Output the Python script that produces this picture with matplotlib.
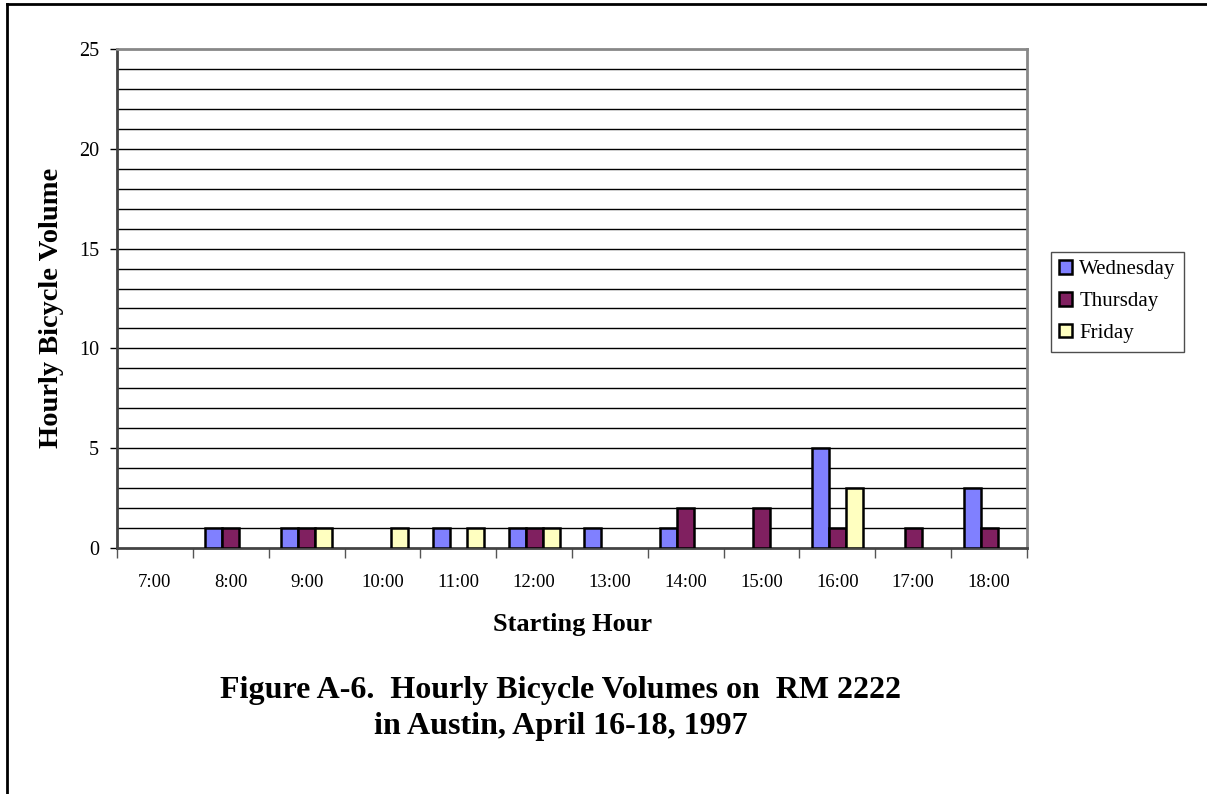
import matplotlib.pyplot as plt
import numpy as np
from matplotlib.lines import Line2D

# Data
hours = ["7:00", "8:00", "9:00", "10:00", "11:00", "12:00",
         "13:00", "14:00", "15:00", "16:00", "17:00", "18:00"]
wednesday = [0, 1, 1, 0, 1, 1, 1, 1, 0, 5, 0, 3]
thursday = [0, 1, 1, 0, 0, 1, 0, 2, 2, 1, 1, 1]
friday = [0, 0, 1, 1, 1, 1, 0, 0, 0, 3, 0, 0]

series = [("Wednesday", wednesday, "#8080FF"),
          ("Thursday", thursday, "#802060"),
          ("Friday", friday, "#FFFFC0")]

plt.rcParams["font.family"] = ["Liberation Serif", "DejaVu Serif"]

W, H = 1207, 794
fig = plt.figure(figsize=(W / 100, H / 100), dpi=100)
ax = fig.add_axes([117 / W, (H - 548) / H, 910 / W, 499 / H])

x = np.arange(len(hours))
bw = 0.224
for i, (name, vals, color) in enumerate(series):
    vals = np.array(vals, dtype=float)
    # zero values are not drawn (no flat outline)
    vals = np.where(vals == 0, np.nan, vals)
    ax.bar(x + (i - 1) * bw, vals, width=bw, color=color,
           edgecolor="black", linewidth=1.8, label=name, zorder=3)

ax.set_xlim(-0.5, len(hours) - 0.5)
ax.set_ylim(0, 25)

# gridlines every unit
for v in range(1, 25):
    ax.axhline(v, color="black", linewidth=1.0, zorder=1)

ax.set_yticks(range(0, 26, 5))
ax.set_yticklabels([str(v) for v in range(0, 26, 5)], fontsize=14.5)
ax.tick_params(axis="y", length=5, width=1, direction="out", pad=8)

# category labels centred, tick marks between categories
ax.set_xticks(x)
ax.set_xticklabels(hours, fontsize=13.5)
ax.tick_params(axis="x", length=0, pad=19)
ax.set_xticks(np.arange(-0.5, len(hours), 1), minor=True)
ax.tick_params(axis="x", which="minor", length=7, width=1, color="#555555")

for side in ["top", "right"]:
    ax.spines[side].set_color("#888888")
    ax.spines[side].set_linewidth(2)
for side in ["left", "bottom"]:
    ax.spines[side].set_color("#444444")
    ax.spines[side].set_linewidth(2)

fig.text(573 / W, 1 - 625 / H, "Starting Hour", ha="center", va="center",
         fontsize=19, fontweight="bold")
fig.text(52 / W, 1 - 308 / H, "Hourly Bicycle Volume", ha="center", va="center",
         rotation=90, fontsize=20.5, fontweight="bold")

leg = ax.legend(loc="upper left", bbox_to_anchor=(1051 / W, 1 - 252 / H),
                bbox_transform=fig.transFigure, borderaxespad=0, fontsize=15,
                frameon=True, fancybox=False, edgecolor="#222222",
                handlelength=0.6, handleheight=0.6, handletextpad=0.35,
                borderpad=0.4, labelspacing=0.62)
leg.get_frame().set_linewidth(1.0)
for h in leg.legend_handles:
    h.set_linewidth(1.8)

fig.text(561 / W, 1 - 698 / H, "Figure A-6.  Hourly Bicycle Volumes on  RM 2222",
         ha="center", va="baseline", fontsize=23, fontweight="bold")
fig.text(561 / W, 1 - 734 / H, "in Austin, April 16-18, 1997",
         ha="center", va="baseline", fontsize=23, fontweight="bold")

# outer border (top and left only)
fig.add_artist(Line2D([7 / W, 1], [1 - 3.5 / H, 1 - 3.5 / H],
                      transform=fig.transFigure, color="black", linewidth=2))
fig.add_artist(Line2D([7 / W, 7 / W], [0, 1 - 3.5 / H],
                      transform=fig.transFigure, color="black", linewidth=2))

fig.savefig("out.png", dpi=100, facecolor="white")
